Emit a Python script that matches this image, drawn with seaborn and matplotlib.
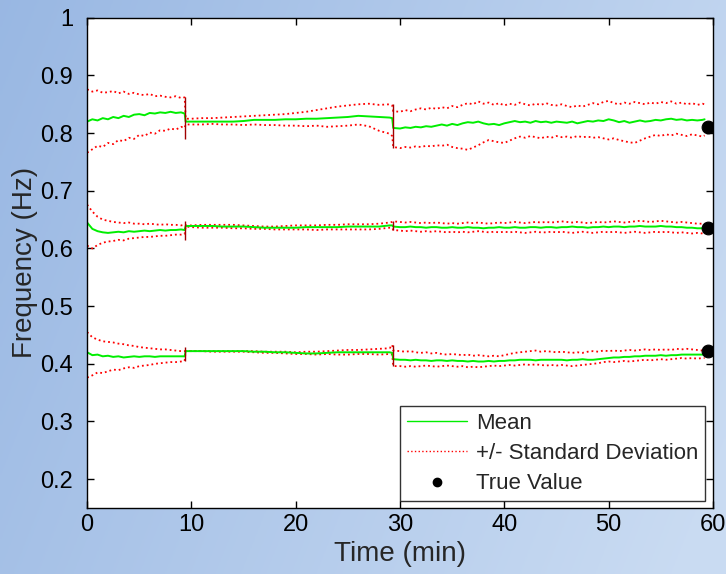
import numpy as np
import matplotlib
matplotlib.use("Agg")
import matplotlib.pyplot as plt
from matplotlib.lines import Line2D
import seaborn as sns

# time grid (min): noisy start, flat middle, noisy end
t_a = list(np.arange(0, 9.01, 0.5)) + [9.35]
t_b = [9.45] + list(np.arange(10, 29.01, 1.0)) + [29.25]
t_c = [29.35] + list(np.arange(30, 59.01, 0.5)) + [59.2]
time_min = np.array(t_a + t_b + t_c)

# --- mode at ~0.81 Hz ---
upper_3 = [
    0.876, 0.872, 0.874, 0.870, 0.871, 0.873, 0.869, 0.872, 0.868, 0.870,
    0.867, 0.866, 0.868, 0.864, 0.865, 0.863, 0.862, 0.864, 0.861, 0.862,
    0.825, 0.825, 0.826, 0.826, 0.827, 0.828, 0.829, 0.830, 0.831, 0.832, 0.833,
    0.835, 0.837, 0.840, 0.843, 0.846, 0.848, 0.850, 0.851, 0.849, 0.850, 0.848,
    0.838,
    0.837, 0.840, 0.838, 0.841, 0.843, 0.841, 0.844, 0.842, 0.845, 0.843,
    0.847, 0.845, 0.849, 0.852, 0.850, 0.855, 0.851, 0.853, 0.849, 0.852,
    0.848, 0.851, 0.849, 0.853, 0.850, 0.848, 0.851, 0.849, 0.852, 0.849,
    0.848, 0.850, 0.847, 0.845, 0.848, 0.846, 0.849, 0.852, 0.850, 0.854,
    0.856, 0.852, 0.850, 0.853, 0.851, 0.854, 0.852, 0.850, 0.853, 0.851,
    0.854, 0.852, 0.855, 0.851, 0.853, 0.850, 0.852, 0.849, 0.851,
    0.850,
]
mean_3 = [
    0.820, 0.824, 0.822, 0.826, 0.824, 0.828, 0.826, 0.830, 0.828, 0.832,
    0.833, 0.831, 0.835, 0.834, 0.836, 0.835, 0.837, 0.835, 0.836, 0.834,
    0.820, 0.820, 0.820, 0.820, 0.820, 0.820, 0.821, 0.823, 0.823, 0.823, 0.824,
    0.824, 0.825, 0.825, 0.826, 0.827, 0.828, 0.830, 0.829, 0.828, 0.827, 0.826,
    0.809,
    0.808, 0.810, 0.809, 0.811, 0.810, 0.812, 0.811, 0.813, 0.815, 0.813,
    0.816, 0.814, 0.817, 0.819, 0.818, 0.820, 0.817, 0.815, 0.816, 0.814,
    0.817, 0.819, 0.821, 0.819, 0.820, 0.818, 0.821, 0.819, 0.820, 0.818,
    0.820, 0.819, 0.818, 0.820, 0.817, 0.819, 0.821, 0.820, 0.822, 0.821,
    0.824, 0.822, 0.819, 0.821, 0.818, 0.820, 0.822, 0.820, 0.821, 0.823,
    0.822, 0.824, 0.825, 0.823, 0.824, 0.822, 0.823, 0.822, 0.823,
    0.824,
]
lower_3 = [
    0.766, 0.772, 0.778, 0.776, 0.783, 0.781, 0.788, 0.786, 0.792, 0.790,
    0.797, 0.795, 0.801, 0.799, 0.805, 0.804, 0.808, 0.806, 0.811, 0.809,
    0.815, 0.815, 0.815, 0.816, 0.815, 0.815, 0.814, 0.815, 0.814, 0.814, 0.813,
    0.813, 0.812, 0.813, 0.811, 0.812, 0.813, 0.815, 0.812, 0.804, 0.799, 0.795,
    0.776,
    0.774, 0.776, 0.775, 0.777, 0.776, 0.778, 0.777, 0.779, 0.778, 0.780,
    0.776, 0.774, 0.773, 0.771, 0.775, 0.779, 0.784, 0.788, 0.786, 0.784,
    0.783, 0.787, 0.791, 0.794, 0.792, 0.795, 0.793, 0.791, 0.794, 0.792,
    0.795, 0.793, 0.794, 0.792, 0.795, 0.793, 0.794, 0.792, 0.793, 0.791,
    0.789, 0.791, 0.788, 0.786, 0.784, 0.783, 0.787, 0.791, 0.794, 0.797,
    0.795, 0.798, 0.796, 0.799, 0.797, 0.795, 0.798, 0.796, 0.794,
    0.796,
]

# --- mode at ~0.635 Hz ---
upper_2 = [
    0.676, 0.664, 0.655, 0.650, 0.648, 0.646, 0.645, 0.644, 0.645, 0.643,
    0.643, 0.642, 0.643, 0.642, 0.641, 0.642, 0.641, 0.641, 0.640, 0.641,
    0.640, 0.640, 0.641, 0.641, 0.641, 0.641, 0.640, 0.639, 0.638, 0.638, 0.639,
    0.640, 0.640, 0.640, 0.641, 0.641, 0.642, 0.642, 0.642, 0.643, 0.645, 0.646,
    0.647,
    0.646, 0.645, 0.646, 0.645, 0.644, 0.645, 0.644, 0.645, 0.644, 0.643,
    0.644, 0.643, 0.644, 0.645, 0.644, 0.645, 0.644, 0.643, 0.644, 0.645,
    0.644, 0.645, 0.646, 0.645, 0.644, 0.645, 0.646, 0.645, 0.646, 0.645,
    0.646, 0.647, 0.646, 0.645, 0.646, 0.645, 0.644, 0.645, 0.646, 0.645,
    0.646, 0.647, 0.646, 0.645, 0.646, 0.647, 0.648, 0.647, 0.646, 0.647,
    0.648, 0.647, 0.646, 0.645, 0.646, 0.645, 0.644, 0.643, 0.643,
    0.642,
]
mean_2 = [
    0.645, 0.634, 0.630, 0.628, 0.627, 0.628, 0.629, 0.628, 0.630, 0.629,
    0.630, 0.631, 0.630, 0.631, 0.632, 0.631, 0.632, 0.632, 0.633, 0.632,
    0.639, 0.639, 0.639, 0.639, 0.638, 0.638, 0.638, 0.637, 0.636, 0.636, 0.636,
    0.636, 0.637, 0.637, 0.637, 0.637, 0.638, 0.638, 0.638, 0.638, 0.640, 0.640,
    0.638,
    0.637, 0.637, 0.638, 0.637, 0.637, 0.636, 0.637, 0.637, 0.636, 0.636,
    0.637, 0.636, 0.636, 0.637, 0.636, 0.636, 0.635, 0.636, 0.636, 0.637,
    0.636, 0.636, 0.637, 0.636, 0.636, 0.637, 0.637, 0.636, 0.637, 0.637,
    0.636, 0.637, 0.637, 0.638, 0.637, 0.637, 0.636, 0.637, 0.637, 0.638,
    0.637, 0.638, 0.638, 0.637, 0.638, 0.638, 0.639, 0.638, 0.638, 0.638,
    0.639, 0.638, 0.638, 0.637, 0.637, 0.636, 0.636, 0.635, 0.635,
    0.634,
]
lower_2 = [
    0.605, 0.600, 0.606, 0.610, 0.612, 0.613, 0.615, 0.614, 0.617, 0.618,
    0.619, 0.620, 0.620, 0.621, 0.622, 0.622, 0.623, 0.624, 0.624, 0.625,
    0.638, 0.637, 0.636, 0.636, 0.636, 0.635, 0.635, 0.634, 0.634, 0.633, 0.633,
    0.633, 0.633, 0.632, 0.633, 0.633, 0.633, 0.633, 0.633, 0.634, 0.636, 0.636,
    0.632,
    0.631, 0.630, 0.631, 0.630, 0.629, 0.630, 0.629, 0.630, 0.629, 0.628,
    0.629, 0.628, 0.629, 0.628, 0.629, 0.630, 0.629, 0.628, 0.629, 0.628,
    0.629, 0.628, 0.629, 0.628, 0.627, 0.628, 0.629, 0.628, 0.628, 0.629,
    0.628, 0.629, 0.628, 0.627, 0.628, 0.629, 0.628, 0.627, 0.628, 0.629,
    0.628, 0.629, 0.628, 0.627, 0.628, 0.629, 0.628, 0.627, 0.628, 0.629,
    0.628, 0.629, 0.628, 0.627, 0.628, 0.627, 0.626, 0.627, 0.626,
    0.625,
]

# --- mode at ~0.42 Hz ---
upper_1 = [
    0.455, 0.446, 0.442, 0.439, 0.438, 0.437, 0.435, 0.434, 0.432, 0.431,
    0.429, 0.428, 0.427, 0.426, 0.425, 0.425, 0.424, 0.423, 0.422, 0.422,
    0.422, 0.422, 0.422, 0.422, 0.422, 0.422, 0.422, 0.422, 0.421, 0.421, 0.421,
    0.420, 0.421, 0.421, 0.422, 0.423, 0.424, 0.424, 0.425, 0.426, 0.427, 0.433,
    0.423,
    0.422, 0.421, 0.422, 0.420, 0.419, 0.420, 0.418, 0.419, 0.417, 0.416,
    0.417, 0.416, 0.415, 0.416, 0.414, 0.415, 0.414, 0.413, 0.414, 0.413,
    0.415, 0.417, 0.419, 0.420, 0.421, 0.422, 0.423, 0.421, 0.422, 0.421,
    0.420, 0.421, 0.420, 0.419, 0.420, 0.419, 0.421, 0.422, 0.421, 0.423,
    0.422, 0.423, 0.422, 0.423, 0.424, 0.423, 0.424, 0.425, 0.424, 0.425,
    0.424, 0.425, 0.424, 0.426, 0.425, 0.426, 0.425, 0.424, 0.423,
    0.423,
]
mean_1 = [
    0.420, 0.415, 0.416, 0.413, 0.414, 0.412, 0.413, 0.411, 0.412, 0.413,
    0.412, 0.413, 0.413, 0.412, 0.413, 0.413, 0.413, 0.413, 0.413, 0.413,
    0.422, 0.422, 0.422, 0.422, 0.422, 0.422, 0.422, 0.421, 0.421, 0.420, 0.420,
    0.419, 0.418, 0.418, 0.419, 0.420, 0.420, 0.420, 0.420, 0.420, 0.420, 0.419,
    0.408,
    0.407, 0.407, 0.406, 0.407, 0.406, 0.406, 0.405, 0.406, 0.406, 0.405,
    0.406, 0.405, 0.405, 0.404, 0.405, 0.404, 0.404, 0.405, 0.404, 0.405,
    0.405, 0.406, 0.406, 0.407, 0.407, 0.407, 0.406, 0.407, 0.407, 0.407,
    0.407, 0.407, 0.406, 0.407, 0.407, 0.408, 0.407, 0.407, 0.408, 0.409,
    0.410, 0.411, 0.411, 0.412, 0.412, 0.413, 0.413, 0.414, 0.414, 0.414,
    0.415, 0.414, 0.415, 0.415, 0.416, 0.416, 0.416, 0.416, 0.416,
    0.416,
]
lower_1 = [
    0.376, 0.380, 0.385, 0.384, 0.387, 0.390, 0.389, 0.392, 0.394, 0.393,
    0.396, 0.397, 0.398, 0.400, 0.401, 0.402, 0.403, 0.403, 0.404, 0.405,
    0.422, 0.422, 0.422, 0.421, 0.421, 0.421, 0.421, 0.420, 0.419, 0.419, 0.418,
    0.417, 0.417, 0.416, 0.417, 0.416, 0.416, 0.417, 0.417, 0.416, 0.417, 0.416,
    0.396,
    0.396, 0.395, 0.396, 0.395, 0.396, 0.397, 0.396, 0.395, 0.396, 0.397,
    0.396, 0.395, 0.396, 0.394, 0.395, 0.394, 0.395, 0.396, 0.397, 0.396,
    0.397, 0.398, 0.397, 0.398, 0.399, 0.398, 0.399, 0.398, 0.397, 0.398,
    0.397, 0.398, 0.397, 0.396, 0.397, 0.398, 0.399, 0.400, 0.401, 0.403,
    0.404, 0.403, 0.404, 0.405, 0.404, 0.405, 0.406, 0.407, 0.406, 0.407,
    0.408, 0.407, 0.408, 0.409, 0.410, 0.409, 0.410, 0.409, 0.410,
    0.410,
]

# true modal frequencies
true_time = [59.5, 59.5, 59.5]
true_freq = [0.810, 0.636, 0.422]

# restarts of the estimator (time, low, high)
reset_time = [9.4, 9.4, 9.4, 29.3, 29.3, 29.3]
reset_lo = [0.789, 0.615, 0.405, 0.775, 0.632, 0.396]
reset_hi = [0.863, 0.648, 0.430, 0.850, 0.648, 0.433]

sns.set_style("white")
plt.rcParams["font.family"] = ["Liberation Sans", "DejaVu Sans"]

fig = plt.figure(figsize=(7.26, 5.74), dpi=100)

# blue gradient background
bg = fig.add_axes([0, 0, 1, 1], zorder=-5)
gx = np.linspace(0, 1, 256)
gy = np.linspace(0, 1, 200)
GX, GY = np.meshgrid(gx, gy)
w = np.clip(0.8 * GX + 0.25 * GY, 0, 1)
c0 = np.array([0.60, 0.72, 0.89])
c1 = np.array([0.79, 0.86, 0.95])
img = c0[None, None, :] * (1 - w[..., None]) + c1[None, None, :] * w[..., None]
bg.imshow(img, aspect="auto", extent=[0, 1, 0, 1], origin="upper")
bg.axis("off")

ax = fig.add_axes([0.120, 0.115, 0.862, 0.854])
ax.set_facecolor("white")

green = "#00ee00"
red = "#ff0000"
for up, mn, lo in [(upper_3, mean_3, lower_3), (upper_2, mean_2, lower_2), (upper_1, mean_1, lower_1)]:
    assert len(up) == len(mn) == len(lo) == len(time_min)
    sns.lineplot(x=time_min, y=up, ax=ax, color=red, linestyle=":", lw=1.3,
                 estimator=None, sort=False, legend=False)
    sns.lineplot(x=time_min, y=lo, ax=ax, color=red, linestyle=":", lw=1.3,
                 estimator=None, sort=False, legend=False)
    sns.lineplot(x=time_min, y=mn, ax=ax, color=green, lw=1.4,
                 estimator=None, sort=False, legend=False)

ax.vlines(reset_time, reset_lo, reset_hi, color="#a00000", lw=1.0)
sns.scatterplot(x=true_time, y=true_freq, ax=ax, color="black", s=85,
                edgecolor="black", zorder=5, legend=False)

ax.set_xlim(0, 60)
ax.set_ylim(0.15, 1.0)
ax.set_xticks([0, 10, 20, 30, 40, 50, 60])
ax.set_yticks([0.2, 0.3, 0.4, 0.5, 0.6, 0.7, 0.8, 0.9, 1.0])
ax.set_yticklabels(["0.2", "0.3", "0.4", "0.5", "0.6", "0.7", "0.8", "0.9", "1"])
ax.tick_params(direction="in", length=5, width=1, colors="black", labelsize=17,
               top=True, right=True, bottom=True, left=True)
ax.tick_params(axis="y", pad=10)
ax.tick_params(axis="x", pad=4)
for s in ax.spines.values():
    s.set_color("black")
    s.set_linewidth(1.0)
ax.set_xlabel("Time (min)", fontsize=20, labelpad=4)
ax.set_ylabel("Frequency (Hz)", fontsize=20, labelpad=2)

handles = [
    Line2D([], [], color=green, lw=1.0),
    Line2D([], [], color=red, lw=1.0, linestyle=":"),
    Line2D([], [], color="black", marker="o", linestyle="none", markersize=6),
]
leg = ax.legend(handles, ["Mean", "+/- Standard Deviation", "True Value"],
                loc="lower right", bbox_to_anchor=(705 / 726, 1 - 501 / 574),
                bbox_transform=fig.transFigure, fontsize=16, frameon=True,
                fancybox=False, edgecolor="black", handlelength=2.7,
                handletextpad=0.4, borderpad=0.3, labelspacing=0.42,
                borderaxespad=0)
leg.get_frame().set_linewidth(1.0)

fig.savefig("out.png", dpi=100)
